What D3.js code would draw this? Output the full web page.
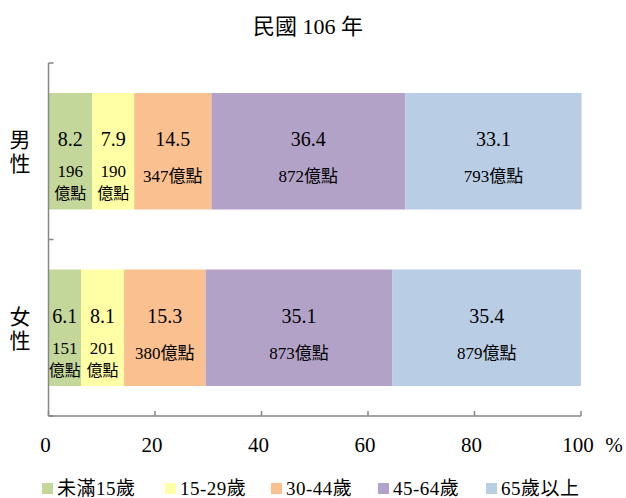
<!DOCTYPE html>
<html>
<head>
<meta charset="utf-8">
<script src="https://cdn.jsdelivr.net/npm/d3@7"></script>
<style>
  body { margin: 0; background: #fff; }
  text { font-family: "Liberation Serif", "Noto Sans CJK TC", serif; fill: #000; }
</style>
</head>
<body>
<div class="canva"></div>
<script>
const width = 626
const height = 498

// data
const genders = ["男性", "女性"]
const ageGroups = ["未滿15歲", "15-29歲", "30-44歲", "45-64歲", "65歲以上"]
const colors = ["#c4d79b", "#ffffa6", "#fac090", "#b3a2c7", "#b9cde5"]
const malePct = [8.2, 7.9, 14.5, 36.4, 33.1]
const femalePct = [6.1, 8.1, 15.3, 35.1, 35.4]
const maleAmt = [196, 190, 347, 872, 793]
const femaleAmt = [151, 201, 380, 873, 879]
const xTicks = [0, 20, 40, 60, 80, 100]

const rows = [
  { name: genders[0], pct: malePct, amt: maleAmt },
  { name: genders[1], pct: femalePct, amt: femaleAmt }
]

const svg = d3.select(".canva").append("svg").attr("width", width).attr("height", height)

const x = d3.scaleLinear().domain([0, 100]).range([48.5, 581])
const y = d3.scaleBand().domain(genders).range([63, 416]).paddingInner(0.34).paddingOuter(0.17)

// title
svg.append("text").attr("x", 308).attr("y", 34).attr("text-anchor", "middle")
  .style("font-size", "22px").text("民國 106 年")

// bars
rows.forEach(function (row) {
  let acc = 0
  const segs = row.pct.map(function (v, i) {
    const s = { x0: acc, x1: acc + v, v, amt: row.amt[i], color: colors[i] }
    acc += v
    return s
  })
  const g = svg.append("g")
  const yc = y(row.name) + y.bandwidth() / 2
  g.selectAll("rect").data(segs).enter().append("rect")
    .attr("x", d => x(d.x0))
    .attr("y", y(row.name))
    .attr("width", d => x(d.x1) - x(d.x0))
    .attr("height", y.bandwidth())
    .attr("fill", d => d.color)

  // value labels
  segs.forEach(function (d) {
    const cx = (x(d.x0) + x(d.x1)) / 2
    g.append("text").attr("x", cx).attr("y", yc - 5).attr("text-anchor", "middle")
      .style("font-size", "20px").text(d.v.toFixed(1))
    if (d.v < 10) {
      g.append("text").attr("x", cx).attr("y", yc + 26).attr("text-anchor", "middle")
        .style("font-size", "17px").text(d.amt)
      g.append("text").attr("x", cx).attr("y", yc + 48).attr("text-anchor", "middle")
        .style("font-size", "16px").text("億點")
    } else {
      g.append("text").attr("x", cx).attr("y", yc + 31).attr("text-anchor", "middle")
        .style("font-size", "17px").text(d.amt + "億點")
    }
  })

  // vertical category label
  const chars = row.name.split("")
  chars.forEach(function (c, i) {
    svg.append("text").attr("x", 20).attr("y", yc - 4 + i * 24).attr("text-anchor", "middle")
      .style("font-size", "21px").text(c)
  })
})

// axes
const axisColor = "#868686"
const yTop = y.range()[0], yBot = y.range()[1]
svg.append("line").attr("x1", x(0)).attr("x2", x(0)).attr("y1", yTop).attr("y2", yBot)
  .attr("stroke", axisColor).attr("stroke-width", 1.5)
svg.append("line").attr("x1", x(0)).attr("x2", x(100)).attr("y1", yBot).attr("y2", yBot)
  .attr("stroke", axisColor).attr("stroke-width", 1.5)
// y ticks at band boundaries
d3.range(genders.length + 1).forEach(function (i) {
  const ty = yTop + i * y.step()
  svg.append("line").attr("x1", x(0)).attr("x2", x(0) + 5).attr("y1", ty).attr("y2", ty)
    .attr("stroke", axisColor).attr("stroke-width", 1.5)
})
// x ticks
svg.selectAll(".xt").data(xTicks).enter().append("line")
  .attr("x1", d => x(d)).attr("x2", d => x(d)).attr("y1", yBot).attr("y2", yBot - 5)
  .attr("stroke", axisColor).attr("stroke-width", 1.5)
svg.selectAll(".xl").data(xTicks).enter().append("text")
  .attr("x", d => x(d) - 3).attr("y", 452).attr("text-anchor", "middle")
  .style("font-size", "21px").text(d => d)
svg.append("text").attr("x", 614).attr("y", 452).attr("text-anchor", "middle")
  .style("font-size", "21px").text("%")

// legend
const legendX = [42, 165, 271, 378, 486]
const lg = svg.selectAll(".lg").data(ageGroups).enter().append("g")
  .attr("transform", (d, i) => `translate(${legendX[i]},483)`)
lg.append("rect").attr("width", 11).attr("height", 11).attr("fill", (d, i) => colors[i])
lg.append("text").attr("x", 15).attr("y", 12).style("font-size", "19px").style("letter-spacing", "0.5px").text(d => d)
</script>
</body>
</html>
